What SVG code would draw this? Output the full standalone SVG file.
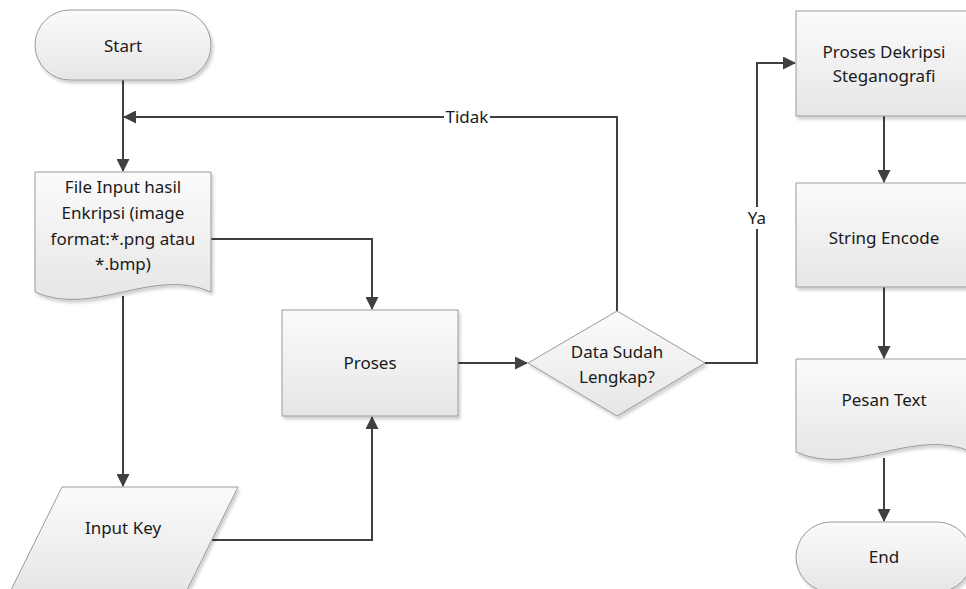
<svg xmlns="http://www.w3.org/2000/svg" width="966" height="589" viewBox="0 0 966 589">
<style>
.n{fill:url(#g);stroke:#9a9a9a;stroke-width:1;filter:url(#sh)}
.t{font-family:"Noto Sans","Open Sans",sans-serif;font-size:17px;fill:#1a1a1a;text-anchor:middle}
.c{fill:none;stroke:#404040;stroke-width:2}
.lb{fill:#fff}
</style>
<defs>
<linearGradient id="g" x1="0" y1="0" x2="0" y2="1">
<stop offset="0" stop-color="#fbfbfb"/>
<stop offset="1" stop-color="#e6e6e6"/>
</linearGradient>
<filter id="sh" x="-10%" y="-10%" width="130%" height="130%">
<feDropShadow dx="2" dy="3" stdDeviation="1.5" flood-color="#000" flood-opacity="0.18"/>
</filter>
<marker id="a" markerWidth="13" markerHeight="13" viewBox="0 0 13 13" refX="12" refY="6.5" orient="auto" markerUnits="userSpaceOnUse">
<path d="M0,0 L13,6.5 L0,13 Z" fill="#404040"/>
</marker>
</defs>
<g id="connectors">
<path class="c" d="M123,80 V171" marker-end="url(#a)"/>
<path class="c" d="M617,311 V117 H124" marker-end="url(#a)"/>
<path class="c" d="M211,239 H372 V309" marker-end="url(#a)"/>
<path class="c" d="M123,296 V486" marker-end="url(#a)"/>
<path class="c" d="M212,540 H372 V417" marker-end="url(#a)"/>
<path class="c" d="M458,363 H527" marker-end="url(#a)"/>
<path class="c" d="M705,363 H757 V63 H795" marker-end="url(#a)"/>
<path class="c" d="M884,116 V182" marker-end="url(#a)"/>
<path class="c" d="M884,287 V358" marker-end="url(#a)"/>
<path class="c" d="M884,458 V521" marker-end="url(#a)"/>
<rect class="lb" x="444" y="106" width="46" height="22"/>
<text class="t" x="467" y="123">Tidak</text>
<rect class="lb" x="746" y="207" width="22" height="22"/>
<text class="t" x="757" y="224">Ya</text>
</g>
<g id="start">
<rect class="n" x="35" y="10" width="176" height="70" rx="35" ry="35"/>
<text class="t" x="123" y="52">Start</text>
</g>
<g id="file-input">
<path class="n" d="M35,172 H211 V292 C153,266 93,318 35,292 Z"/>
<text class="t" x="123" y="193">File Input hasil</text>
<text class="t" x="123" y="219">Enkripsi (image</text>
<text class="t" x="123" y="245">format:*.png atau</text>
<text class="t" x="123" y="270">*.bmp)</text>
</g>
<g id="input-key">
<path class="n" d="M62,487 H238 L186,592 H10 Z"/>
<text class="t" x="123" y="534">Input Key</text>
</g>
<g id="proses">
<rect class="n" x="282" y="310" width="176" height="106"/>
<text class="t" x="370" y="369">Proses</text>
</g>
<g id="decision">
<path class="n" d="M617,311 L705,363 L617,416 L528,363 Z"/>
<text class="t" x="617" y="358">Data Sudah</text>
<text class="t" x="617" y="383">Lengkap?</text>
</g>
<g id="dekripsi">
<rect class="n" x="796" y="11" width="176" height="105"/>
<text class="t" x="884" y="58">Proses Dekripsi</text>
<text class="t" x="884" y="82">Steganografi</text>
</g>
<g id="string-encode">
<rect class="n" x="796" y="183" width="176" height="104"/>
<text class="t" x="884" y="244">String Encode</text>
</g>
<g id="pesan-text">
<path class="n" d="M796,359 H972 V452 C914,426 854,478 796,452 Z"/>
<text class="t" x="884" y="406">Pesan Text</text>
</g>
<g id="end">
<rect class="n" x="796" y="522" width="176" height="70" rx="35" ry="35"/>
<text class="t" x="884" y="563">End</text>
</g>
</svg>
